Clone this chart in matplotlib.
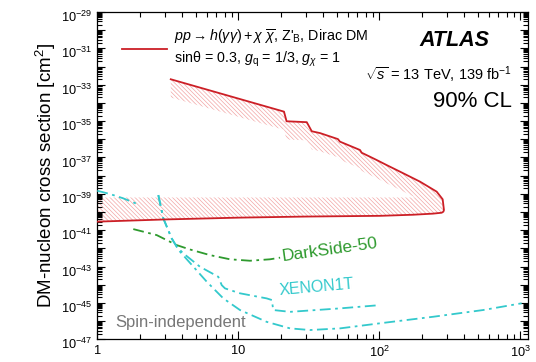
import numpy as np
import matplotlib
matplotlib.use("Agg")
import matplotlib.pyplot as plt
import matplotlib.transforms as mtransforms
from matplotlib.ticker import LogLocator, FuncFormatter, NullFormatter
from matplotlib.lines import Line2D

plt.rcParams['font.family'] = ['Liberation Sans', 'DejaVu Sans']
plt.rcParams['mathtext.fontset'] = 'custom'
plt.rcParams['mathtext.rm'] = 'Liberation Sans'
plt.rcParams['mathtext.it'] = 'Liberation Sans:italic'
plt.rcParams['mathtext.bf'] = 'Liberation Sans:bold'
plt.rcParams['hatch.linewidth'] = 0.5

# ATLAS exclusion contour (log10 of cross section)
up_mass = [3.32, 21.1, 22.0, 30.6, 33.2, 38.0, 50.9, 52.6, 73.0, 75.0, 85.9, 95.8,
           112.9, 140.2, 194.4, 255.3, 281.6, 287.6, 285.0]
up_logxs = [-32.70, -34.48, -35.01, -35.06, -35.56, -35.66, -35.99, -36.13, -36.59, -36.74,
            -36.96, -37.14, -37.42, -37.78, -38.33, -38.88, -39.30, -39.89, -39.98]
lo_mass = [277.1, 240.0, 173.4, 101.2, 30.0, 10.0, 3.0, 1.0]
lo_logxs = [-40.04, -40.09, -40.15, -40.21, -40.25, -40.31, -40.41, -40.53]
band_top = -39.2      # upper edge of the hatched band along the lower contour
band_width = 1.0      # depth of the hatching below the upper contour

# DarkSide-50
ds_mass = [1.80, 2.64, 3.66, 4.54, 6.30, 8.73, 12.1, 16.8, 19.8]
ds_logxs = [-40.94, -41.27, -41.82, -42.06, -42.37, -42.60, -42.68, -42.60, -42.51]

# XENON1T (three pieces)
xa_mass = [1.0, 1.23, 1.53, 2.01]
xa_logxs = [-38.83, -39.01, -39.25, -39.62]
xb_mass = [2.71, 2.94, 3.37, 3.66, 4.07, 5.35, 7.21, 7.63, 8.05, 10.28, 15.9, 17.3, 17.7,
           23.3, 52.6, 101.0]
xb_logxs = [-39.07, -40.35, -41.45, -41.91, -42.27, -43.01, -43.56, -44.02, -44.20, -44.47,
            -44.75, -44.84, -45.39, -45.49, -45.30, -45.12]
xc_mass = [2.71, 2.94, 3.37, 3.66, 3.86, 5.97, 7.83, 10.28, 15.9, 23.3, 32.3, 52.6, 101.0,
           241.5, 546.0, 1023.0]
xc_logxs = [-39.07, -40.35, -41.45, -41.91, -42.18, -43.83, -44.75, -45.39, -46.04, -46.40,
            -46.49, -46.40, -46.12, -45.76, -45.39, -45.02]

RED = '#cc1f26'
CYAN = '#33c9cc'
GREEN = '#2e9a2e'
dashdot = (0, (6, 2.5, 1.5, 2.5))

fig = plt.figure(figsize=(5.36, 3.62), dpi=100)
ax = fig.add_axes([0.1815, 0.0627, 0.803, 0.9042])

# hatched region inside the contour
um = np.array(up_mass[:17])
ue = np.array(up_logxs[:17])
inner = ue - band_width
k = np.argmax(inner < band_top)
lm = np.log10(um)
t = (band_top - inner[k - 1]) / (inner[k] - inner[k - 1])
cross_m = 10 ** (lm[k - 1] + t * (lm[k] - lm[k - 1]))
poly_m = list(up_mass) + lo_mass + [1.0, cross_m] + list(um[:k][::-1])
poly_e = list(up_logxs) + lo_logxs + [band_top, band_top] + list(inner[:k][::-1])
ax.fill(poly_m, 10.0 ** np.array(poly_e), facecolor='none', edgecolor='#f2a5a5',
        hatch='\\' * 8, linewidth=0, zorder=1)

cont_m = list(up_mass) + lo_mass
cont_e = np.array(up_logxs + lo_logxs)
ax.plot(cont_m, 10.0 ** cont_e, color=RED, lw=1.3, zorder=4)

ax.plot(ds_mass, 10.0 ** np.array(ds_logxs), color=GREEN, lw=1.3, ls=dashdot, zorder=3)
for mm, ee in [(xa_mass, xa_logxs), (xb_mass, xb_logxs), (xc_mass, xc_logxs)]:
    ax.plot(mm, 10.0 ** np.array(ee), color=CYAN, lw=1.3, ls=dashdot, zorder=3)

ax.set_xscale('log')
ax.set_yscale('log')
ax.set_xlim(1, 1129)
ax.set_ylim(1e-47, 1e-29)

ax.yaxis.set_major_locator(LogLocator(base=10, numticks=40))
ax.yaxis.set_minor_locator(LogLocator(base=10, subs=np.arange(2, 10), numticks=400))
ax.yaxis.set_major_formatter(FuncFormatter(
    lambda v, p: r'$10^{%d}$' % round(np.log10(v)) if round(np.log10(v)) % 2 else ''))
ax.yaxis.set_minor_formatter(NullFormatter())
ax.xaxis.set_major_locator(LogLocator(base=10, numticks=10))
ax.xaxis.set_minor_locator(LogLocator(base=10, subs=np.arange(2, 10), numticks=100))
ax.xaxis.set_major_formatter(FuncFormatter(
    lambda v, p: '1' if v == 1 else ('10' if v == 10 else r'$10^{%d}$' % round(np.log10(v)))))
ax.xaxis.set_minor_formatter(NullFormatter())
ax.tick_params(which='both', direction='in', top=True, right=True, labelsize=9.2, width=0.8)
ax.tick_params(which='major', length=6, pad=4)
ax.tick_params(which='minor', length=3.5)
for s in ax.spines.values():
    s.set_linewidth(0.9)

# ROOT puts the "10" on the tick and the exponent above it
shift = mtransforms.ScaledTranslation(0, -4 / 100, fig.dpi_scale_trans)
for lbl in ax.get_yticklabels():
    lbl.set_transform(lbl.get_transform() + shift)

ax.set_ylabel('DM-nucleon cross section [cm$^2$]', fontsize=13.5, labelpad=2)

h = Line2D([], [], color=RED, lw=1.3)
lab = (r"$pp \rightarrow h(\gamma\gamma) + \chi\ \overline{\chi}$, Z'$_{\rm B}$, Dirac DM" + "\n"
       + r"sinθ = 0.3, $g_{\rm q}$ = 1/3, $g_{\chi}$ = 1")
ax.legend([h], [lab], loc='upper left', bbox_to_anchor=(0.028, 0.99), frameon=False,
          fontsize=10.3, handlelength=3.1, handletextpad=0.5, labelspacing=0.2)

ax.text(0.912, 0.914, 'ATLAS', transform=ax.transAxes, ha='right', va='center',
        fontsize=15.5, fontweight='bold', fontstyle='italic')
ax.text(0.963, 0.807, r'$\sqrt{s}$ = 13 TeV, 139 fb$^{-1}$', transform=ax.transAxes,
        ha='right', va='center', fontsize=10.5)
ax.text(0.963, 0.728, '90% CL', transform=ax.transAxes, ha='right', va='center', fontsize=16)
ax.text(44.7, 10 ** -42.09, 'DarkSide-50', color=GREEN, fontsize=12.5, rotation=8,
        ha='center', va='center')
ax.text(36.1, 10 ** -44.13, 'XENON1T', color=CYAN, fontsize=11.5, rotation=5,
        ha='center', va='center')
ax.text(0.041, 0.05, 'Spin-independent', transform=ax.transAxes, color='#777777',
        fontsize=12, ha='left', va='center')

fig.savefig('out.png', dpi=100)
